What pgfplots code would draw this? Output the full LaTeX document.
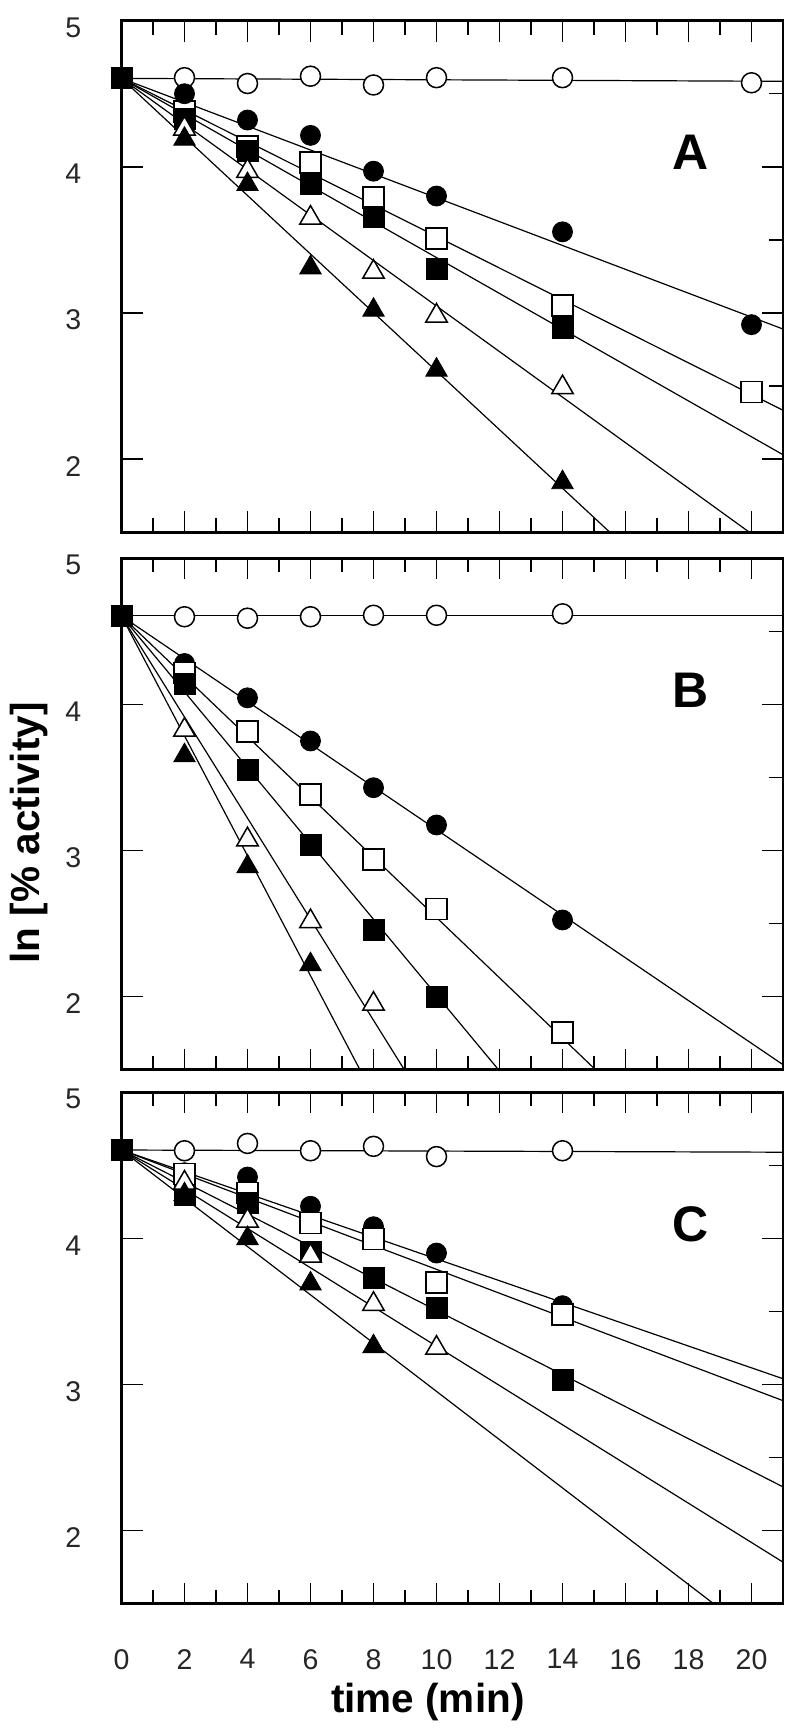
\documentclass[border=0pt]{standalone}
\usepackage{fontspec}
\setmainfont{Liberation Sans}
\usepackage{pgfplots}
\pgfplotsset{compat=1.18}
\pgfplotsset{
  panel/.style={
    scale only axis, width=330.75pt, height=255.75pt,
    xmin=0, xmax=21, ymin=1.5, ymax=5,
    xtick={0,2,...,20}, minor xtick={1,3,...,19},
    ytick={2,3,4,5},
    extra y ticks={2.5,3.5,4.5}, extra y tick labels={},
    extra y tick style={ytick pos=right, major tick length=7pt},
    xtick pos=both, ytick pos=both,
    xticklabel pos=left, yticklabel pos=left,
    tick align=inside, major tick length=10.5pt, minor tick length=7pt,
    tick style={black, line width=0.75pt},
    axis line style={line width=1.35pt},
    /pgf/number format/assume math mode=true,
    tick label style={font=\fontsize{14.25}{16}\selectfont, black!85},
    yticklabel style={inner sep=0pt, xshift=-20pt, yshift=-3.5pt},
    xticklabel style={inner sep=0pt, anchor=north, yshift=-22.5pt},
    clip mode=individual,
  },
  fit/.style={black, line width=0.6pt, no marks},
  oc/.style={only marks, mark=*, mark size=5pt, mark options={fill=white, draw=black, line width=0.75pt}},
  fc/.style={only marks, mark=*, mark size=5pt, mark options={fill=black, draw=black}},
  os/.style={only marks, mark=square*, mark size=5.25pt, mark options={fill=white, draw=black, line width=0.75pt}},
  fs/.style={only marks, mark=square*, mark size=5.25pt, mark options={fill=black, draw=black}},
  ot/.style={only marks, mark=triangle*, mark size=6.2pt, mark options={fill=white, draw=black, line width=0.75pt}},
  ft/.style={only marks, mark=triangle*, mark size=6.2pt, mark options={fill=black, draw=black}},
}
\newcommand{\panellabel}{\fontsize{25}{30}\bfseries\selectfont}
\begin{document}
\begin{tikzpicture}
\useasboundingbox (0,0) rectangle (400pt,866pt);

% ---------------- Panel A ----------------
\begin{axis}[panel, at={(60.75pt,855.65pt)}, anchor=north west, xticklabels={}]
\addplot[fit] coordinates {(0,4.605) (21,4.585)};
\addplot[fit] coordinates {(0,4.605) (21,2.89)};
\addplot[fit] coordinates {(0,4.605) (21,2.334)};
\addplot[fit] coordinates {(0,4.605) (21,2.03)};
\addplot[fit] coordinates {(0,4.605) (19.93,1.5)};
\addplot[fit] coordinates {(0,4.605) (15.5,1.5)};
\addplot[oc] coordinates {(2,4.61) (4,4.57) (6,4.62) (8,4.56) (10,4.61) (14,4.61) (20,4.575)};
\addplot[os] coordinates {(2,4.38) (4,4.14) (6,4.03) (8,3.79) (10,3.51) (14,3.05) (20,2.46)};
\addplot[fs] coordinates {(2,4.33) (4,4.11) (6,3.88) (8,3.66) (10,3.30) (14,2.90)};
\addplot[fc] coordinates {(2,4.50) (4,4.32) (6,4.215) (8,3.97) (10,3.80) (14,3.555) (20,2.92)};
\addplot[ot] coordinates {(2,4.26) (4,3.97) (6,3.65) (8,3.28) (10,2.98) (14,2.49)};
\addplot[ft] coordinates {(2,4.19) (4,3.88) (6,3.31) (8,3.02) (10,2.61) (14,1.84)};
\addplot[fs] coordinates {(0,4.605)};
\node[font=\panellabel] at (axis cs:18.05,4.1) {A};
\end{axis}

% ---------------- Panel B ----------------
\begin{axis}[panel, at={(60.75pt,586.85pt)}, anchor=north west, xticklabels={},
  ylabel={\bfseries ln [\% activity]},
  ylabel style={font=\fontsize{20.25}{24}\selectfont, at={(axis description cs:-0.14,0.463)}, anchor=center}]
\addplot[fit] coordinates {(0,4.607) (21,4.607)};
\addplot[fit] coordinates {(0,4.605) (21,1.535)};
\addplot[fit] coordinates {(0,4.605) (15.05,1.5)};
\addplot[fit] coordinates {(0,4.605) (11.97,1.5)};
\addplot[fit] coordinates {(0,4.605) (8.98,1.5)};
\addplot[fit] coordinates {(0,4.605) (7.57,1.5)};
\addplot[oc] coordinates {(2,4.60) (4,4.59) (6,4.60) (8,4.61) (10,4.61) (14,4.62)};
\addplot[fc] coordinates {(2,4.28) (4,4.045) (6,3.75) (8,3.43) (10,3.175) (14,2.525)};
\addplot[os] coordinates {(2,4.215) (4,3.815) (6,3.385) (8,2.94) (10,2.60) (14,1.755)};
\addplot[fs] coordinates {(2,4.14) (4,3.555) (6,3.04) (8,2.455) (10,2.0)};
\addplot[ot] coordinates {(2,3.825) (4,3.075) (6,2.515) (8,1.95)};
\addplot[ft] coordinates {(2,3.65) (4,2.89) (6,2.22)};
\addplot[fs] coordinates {(0,4.605)};
\node[font=\panellabel] at (axis cs:18.05,4.1) {B};
\end{axis}

% ---------------- Panel C ----------------
\begin{axis}[panel, at={(60.75pt,319.85pt)}, anchor=north west,
  xlabel={\bfseries time (min)},
  xlabel style={font=\fontsize{20.25}{24}\selectfont, at={(axis description cs:0.463,-0.1926)}, anchor=center}]
\addplot[fit] coordinates {(0,4.605) (21,4.59)};
\addplot[fit] coordinates {(0,4.605) (21,3.04)};
\addplot[fit] coordinates {(0,4.605) (21,2.89)};
\addplot[fit] coordinates {(0,4.605) (21,2.30)};
\addplot[fit] coordinates {(0,4.605) (21,1.785)};
\addplot[fit] coordinates {(0,4.605) (18.8,1.5)};
\addplot[oc] coordinates {(2,4.60) (4,4.65) (6,4.60) (8,4.63) (10,4.56) (14,4.60)};
\addplot[fc] coordinates {(2,4.45) (4,4.42) (6,4.22) (8,4.08) (10,3.90) (14,3.54)};
\addplot[os] coordinates {(2,4.44) (4,4.31) (6,4.105) (8,3.995) (10,3.70) (14,3.48)};
\addplot[fs] coordinates {(2,4.30) (4,4.24) (6,3.91) (8,3.73) (10,3.525) (14,3.03)};
\addplot[ot] coordinates {(2,4.38) (4,4.12) (6,3.88) (8,3.55) (10,3.25)};
\addplot[ft] coordinates {(2,4.30) (4,4.0) (6,3.69) (8,3.26)};
\addplot[fs] coordinates {(0,4.605)};
\node[font=\panellabel] at (axis cs:18.05,4.1) {C};
\end{axis}
\end{tikzpicture}
\end{document}
